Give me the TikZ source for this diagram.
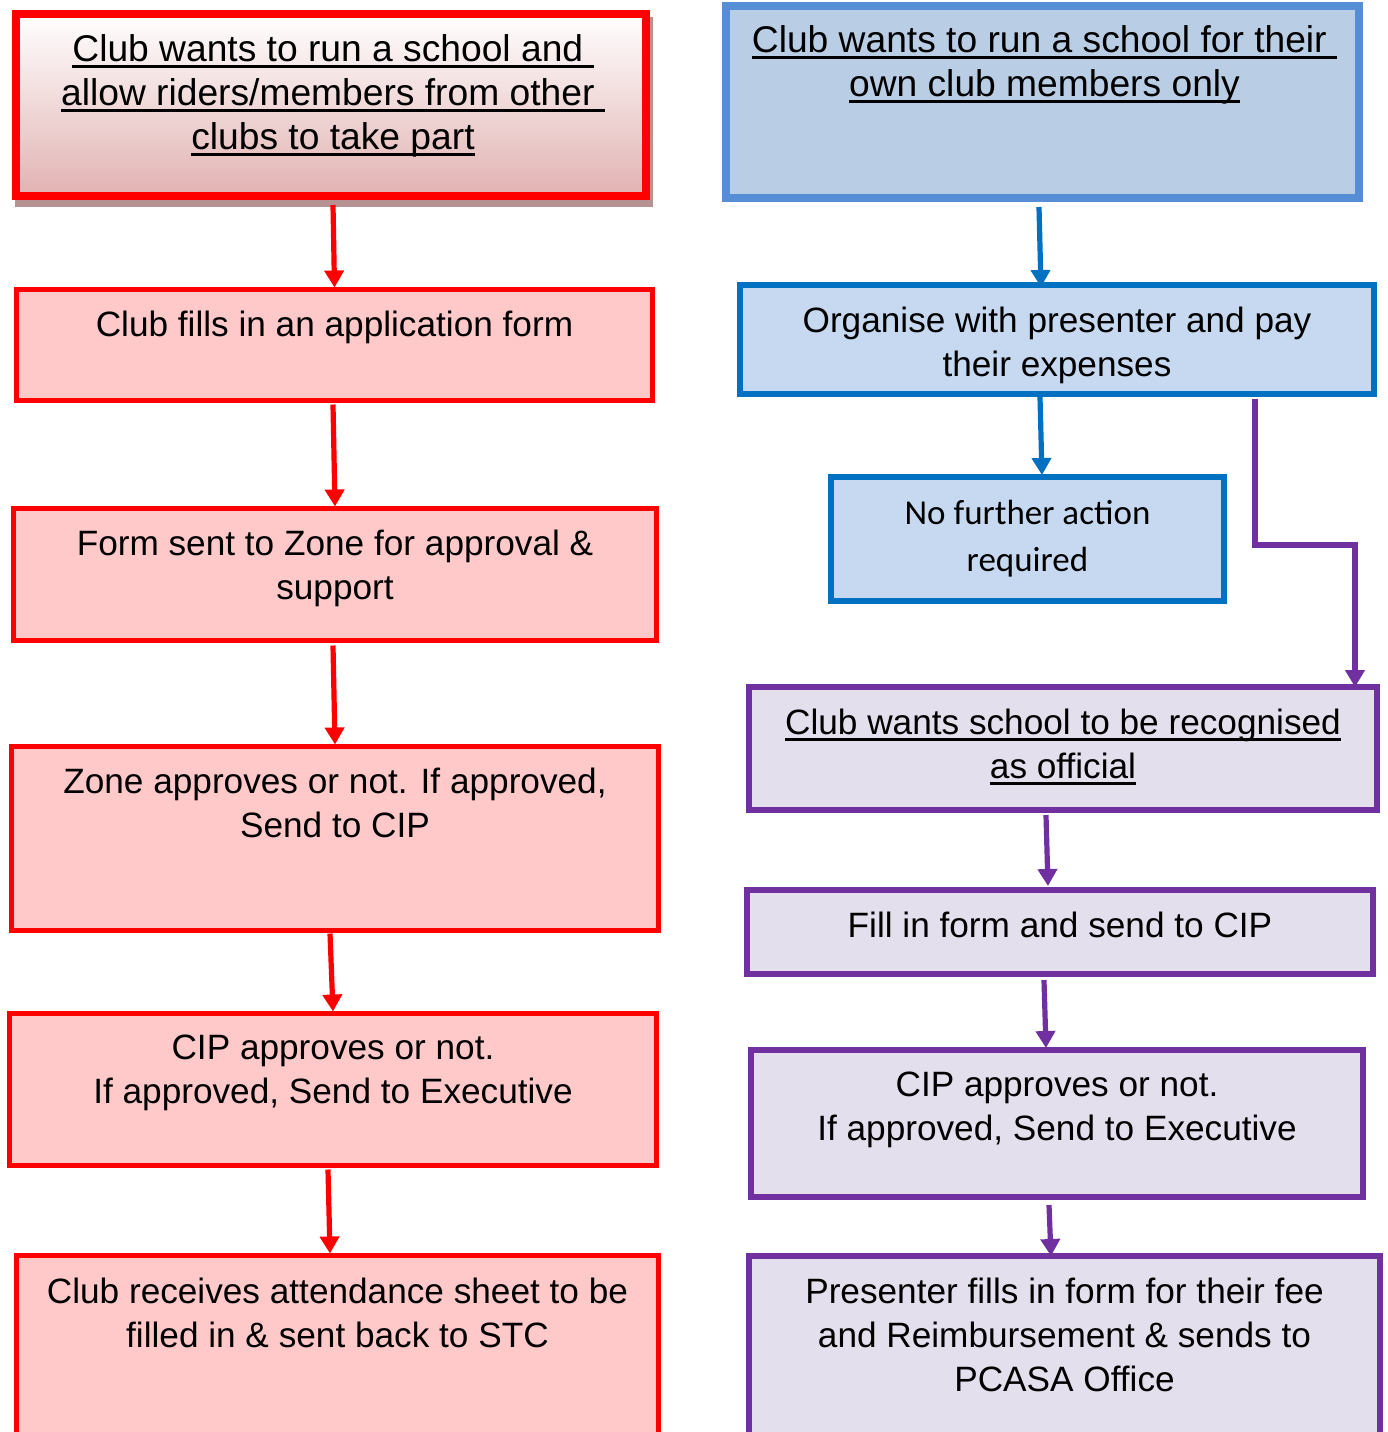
\documentclass[tikz,border=0pt]{standalone}
\usepackage{fontspec}
\setmainfont{Liberation Sans}
\newfontfamily\calfont{Carlito}
\usetikzlibrary{arrows.meta,calc}
\definecolor{redfill}{RGB}{255,201,201}
\definecolor{b1bot}{RGB}{226,178,178}
\definecolor{shadowc}{RGB}{182,146,146}
\definecolor{r1line}{RGB}{85,142,213}
\definecolor{r1fill}{RGB}{185,205,229}
\definecolor{blueline}{RGB}{0,112,192}
\definecolor{bluefill}{RGB}{198,217,241}
\definecolor{purpline}{RGB}{112,48,160}
\definecolor{purpfill}{RGB}{228,223,236}
\newsavebox\myulbox
\newcommand\myul[1]{\sbox\myulbox{#1}\rlap{\rule[-3.2pt]{\wd\myulbox}{1.5pt}}\usebox\myulbox}
\newcommand\fsA{\fontsize{17.6pt}{22pt}\selectfont}
\newcommand\fsB{\fontsize{18.6pt}{22pt}\selectfont}
\newcommand\fsC{\fontsize{17.5pt}{23.5pt}\selectfont\calfont}
\tikzset{
  flowbox/.style={rectangle, inner sep=0pt, outer sep=0pt},
  redbox/.style={flowbox, draw=red, fill=redfill, line width=2.6pt},
  bluebox/.style={flowbox, draw=blueline, fill=bluefill, line width=3pt},
  purpbox/.style={flowbox, draw=purpline, fill=purpfill, line width=3pt},
  txt/.style={anchor=north, align=center, inner sep=0pt, font=\fsA},
  tip/.style={-{Triangle[length=8.5pt,width=9.5pt]}},
  redarr/.style={tip, draw=red, line width=2.6pt},
  bluearr/.style={tip, draw=blueline, line width=2.6pt},
  purparr/.style={tip, draw=purpline, line width=2.6pt},
}
\begin{document}
\begin{tikzpicture}[x=0.5pt,y=-0.5pt]
\useasboundingbox (0,0) rectangle (1388,1432);
\fill[white] (0,0) rectangle (1388,1432);
% ---------- left column ----------
\fill[shadowc] (15,17) rectangle (653,207);
\node[flowbox, draw=red, line width=4pt, top color=white, bottom color=b1bot,
      minimum width=315pt, minimum height=91pt] (b1) at (331,105) {};
\node[redbox, minimum width=318pt, minimum height=55.5pt] (b2) at (334.5,345) {};
\node[redbox, minimum width=321.5pt, minimum height=66pt] (b3) at (335,574.5) {};
\node[redbox, minimum width=323.5pt, minimum height=92pt] (b4) at (335,838.5) {};
\node[redbox, minimum width=323.5pt, minimum height=76pt] (b5) at (333,1089.5) {};
\node[redbox, minimum width=321pt, minimum height=96pt] (b6) at (337.5,1351.5) {};
% ---------- right column ----------
\node[flowbox, draw=r1line, fill=r1fill, line width=4pt,
      minimum width=316.5pt, minimum height=96pt] (r1) at (1042.5,102) {};
\node[bluebox, minimum width=317pt, minimum height=54.5pt] (r2) at (1057,339.5) {};
\node[bluebox, minimum width=196.5pt, minimum height=62pt] (r3) at (1027.5,539) {};
\node[purpbox, minimum width=314pt, minimum height=61.5pt] (r4) at (1063,748.5) {};
\node[purpbox, minimum width=313pt, minimum height=42pt] (r5) at (1060,932) {};
\node[purpbox, minimum width=306pt, minimum height=73.5pt] (r6) at (1057,1123.5) {};
\node[purpbox, minimum width=315.5pt, minimum height=95.5pt] (r7) at (1064.5,1351.5) {};
% ---------- texts ----------
\node[txt, font=\fsB] (b1t) at ([xshift=1pt,yshift=-10pt]b1.north) {\myul{Club wants to run a school and\ }\\\myul{allow riders/members from other\ }\\\myul{clubs to take part}};
\node[txt] (b2t) at ([yshift=-10.75pt]b2.north) {Club fills in an application form};
\node[txt] (b3t) at ([yshift=-10.75pt]b3.north) {Form sent to Zone for approval \&\\support};
\node[txt] (b4t) at ([yshift=-10.75pt]b4.north) {Zone approves or not. If approved,\\Send to CIP};
\node[txt] (b5t) at ([yshift=-10.75pt]b5.north) {CIP approves or not.\\If approved, Send to Executive};
\node[txt] (b6t) at ([yshift=-11.25pt]b6.north) {Club receives attendance sheet to be\\filled in \& sent back to STC};
\node[txt, font=\fsB] (r1t) at ([xshift=1pt,yshift=-9.5pt]r1.north) {\myul{Club wants to run a school for their\ }\\\myul{own club members only}};
\node[txt] (r2t) at ([yshift=-11pt]r2.north) {Organise with presenter and pay\\their expenses};
\node[txt, font=\fsC] (r3t) at ([yshift=-11.5pt]r3.north) {No further action\\required};
\node[txt] (r4t) at ([yshift=-11pt]r4.north) {\myul{Club wants school to be recognised}\\\myul{as official}};
\node[txt] (r5t) at ([yshift=-11pt]r5.north) {Fill in form and send to CIP};
\node[txt] (r6t) at ([yshift=-11pt]r6.north) {CIP approves or not.\\If approved, Send to Executive};
\node[txt] (r7t) at ([yshift=-11pt]r7.north) {Presenter fills in form for their fee\\and Reimbursement \& sends to\\PCASA Office};
% ---------- connectors ----------
\draw[redarr] ([xshift=1pt,yshift=-4.5pt]b1.south) -- ([yshift=1pt]b2.north);
\draw[redarr] ([xshift=-0.75pt,yshift=-2pt]b2.south) -- ([yshift=1pt]b3.north);
\draw[redarr] ([xshift=-1pt,yshift=-2.5pt]b3.south) -- ([yshift=1pt]b4.north);
\draw[redarr] ([xshift=-2.5pt,yshift=-1.5pt]b4.south) -- ([yshift=1pt]b5.north);
\draw[redarr] ([xshift=-2.5pt,yshift=-2pt]b5.south) -- ([xshift=-3.75pt,yshift=1pt]b6.north);
\draw[bluearr] ([xshift=-1.75pt,yshift=-4.5pt]r1.south) -- ([xshift=-8pt,yshift=-1pt]r2.north);
\draw[bluearr] ([xshift=-8.5pt,yshift=-1.5pt]r2.south) -- ([xshift=7.25pt,yshift=1pt]r3.north);
\coordinate (pk) at (1300,545);
\draw[purparr] ([xshift=99pt,yshift=-2.5pt]r2.south) |- (pk) -| ([xshift=146pt]r4.north);
\draw[purparr] ([xshift=-8.5pt,yshift=-2.5pt]r4.south) -- ([xshift=-6pt,yshift=2pt]r5.north);
\draw[purparr] ([xshift=-8pt,yshift=-3pt]r5.south) -- ([xshift=-5.5pt,yshift=1pt]r6.north);
\draw[purparr] ([xshift=-4pt,yshift=-4pt]r6.south) -- ([xshift=-6.75pt]r7.north);
\end{tikzpicture}
\end{document}
